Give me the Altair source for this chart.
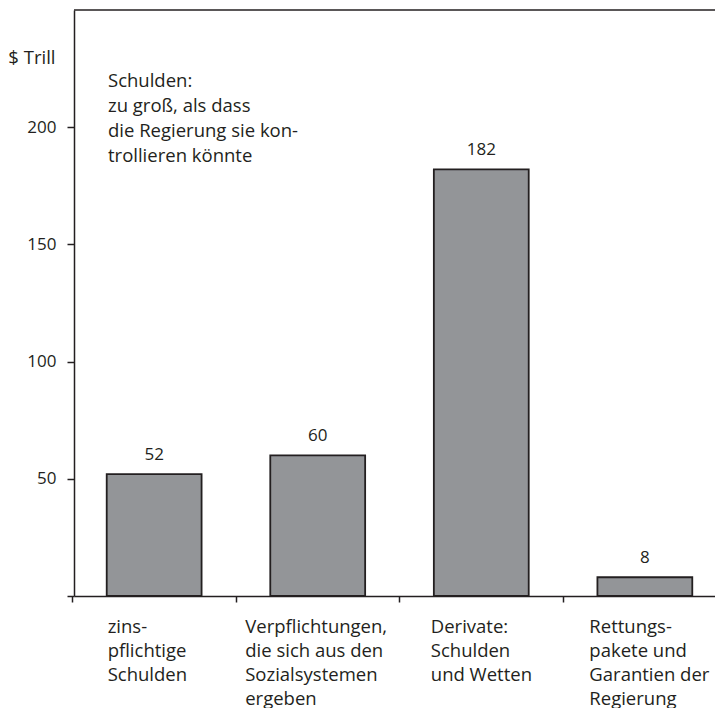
import json
import altair as alt
import pandas as pd

# ---- data ----
categories = [
    "zins-\npflichtige\nSchulden",
    "Verpflichtungen,\ndie sich aus den\nSozialsystemen\nergeben",
    "Derivate:\nSchulden\nund Wetten",
    "Rettungs-\npakete und\nGarantien der\nRegierung",
]
values = [52, 60, 182, 8]
y_ticks = [0, 50, 100, 150, 200]
y_max = 250
y_title = "$ Trill"
note_lines = ["Schulden:", "zu groß, als dass", "die Regierung sie kon-", "trollieren könnte"]

# label shift from the bar centre (style)
label_shift = [-47, -73, -51, -56]
TICK_OFFSET = -82

df = pd.DataFrame({"cat": categories, "value": values})

FONT = "Open Sans"
INK = "#231f20"
FS_NUM = 17
FS_TXT = 18.5

offset_cond = {
    "condition": [
        {"test": f"datum.value === {json.dumps(c)}", "value": o - TICK_OFFSET}
        for c, o in zip(categories, label_shift)
    ],
    "value": -55 - TICK_OFFSET,
}

x_enc = alt.X(
    "cat:N",
    sort=categories,
    scale=alt.Scale(range=[0, 651], paddingInner=0.42, paddingOuter=0.2),
    axis=alt.Axis(
        title=None,
        labelExpr="split(datum.label, '\\n')",
        labelAngle=0,
        labelAlign="left",
        labelBaseline="top",
        labelPadding=15,
        labelLineHeight=24,
        labelOverlap=False,
        labelFlush=False,
        labelLimit=0,
        labelFontSize=FS_TXT,
        labelOffset=offset_cond,
        ticks=True,
        tickBand="center",
        tickOffset=TICK_OFFSET,
        tickSize=6,
    ),
)
y_enc = alt.Y(
    "value:Q",
    scale=alt.Scale(domain=[0, y_max], nice=False, zero=True),
    axis=alt.Axis(
        values=y_ticks,
        labelExpr="datum.value == 0 ? '' : datum.label",
        labelFontSize=FS_NUM,
        tickSize=7,
        labelPadding=11,
        title=y_title,
        titleAngle=0,
        titleAlign="right",
        titleBaseline="middle",
        titleX=-19,
        titleY=47,
        titleFont=FONT,
        titleFontSize=FS_TXT,
        titleFontWeight="normal",
        titleColor=INK,
    ),
)

bars = alt.Chart(df).mark_bar(
    color="#939598", stroke=INK, strokeWidth=1.8
).encode(x=x_enc, y=y_enc)

labels = alt.Chart(df).mark_text(
    dy=-19, fontSize=FS_NUM, font=FONT, color=INK, baseline="middle"
).encode(x=alt.X("cat:N", sort=categories), y="value:Q", text="value:Q")

top_line = alt.Chart(pd.DataFrame({"v": [y_max]})).mark_rule(
    color=INK, strokeWidth=1.5
).encode(y=alt.Y("v:Q"))

note = alt.Chart(pd.DataFrame({"t": ["\n".join(note_lines)]})).mark_text(
    align="left", baseline="top", lineBreak="\n", lineHeight=25,
    fontSize=FS_TXT, font=FONT, color=INK
).encode(x=alt.value(34), y=alt.value(62), text="t:N")

chart = alt.layer(bars, labels, top_line, note).properties(
    width=641,
    height=586,
    autosize=alt.AutoSizeParams(type="none"),
    padding={"left": 66, "top": 2, "right": 0, "bottom": 112},
).configure_view(stroke=None).configure_axis(
    grid=False,
    domainColor=INK,
    domainWidth=1.5,
    tickColor=INK,
    tickWidth=1.5,
    labelColor=INK,
    labelFont=FONT,
)

chart.save("out.html", embed_options={"renderer": "svg", "actions": False})
